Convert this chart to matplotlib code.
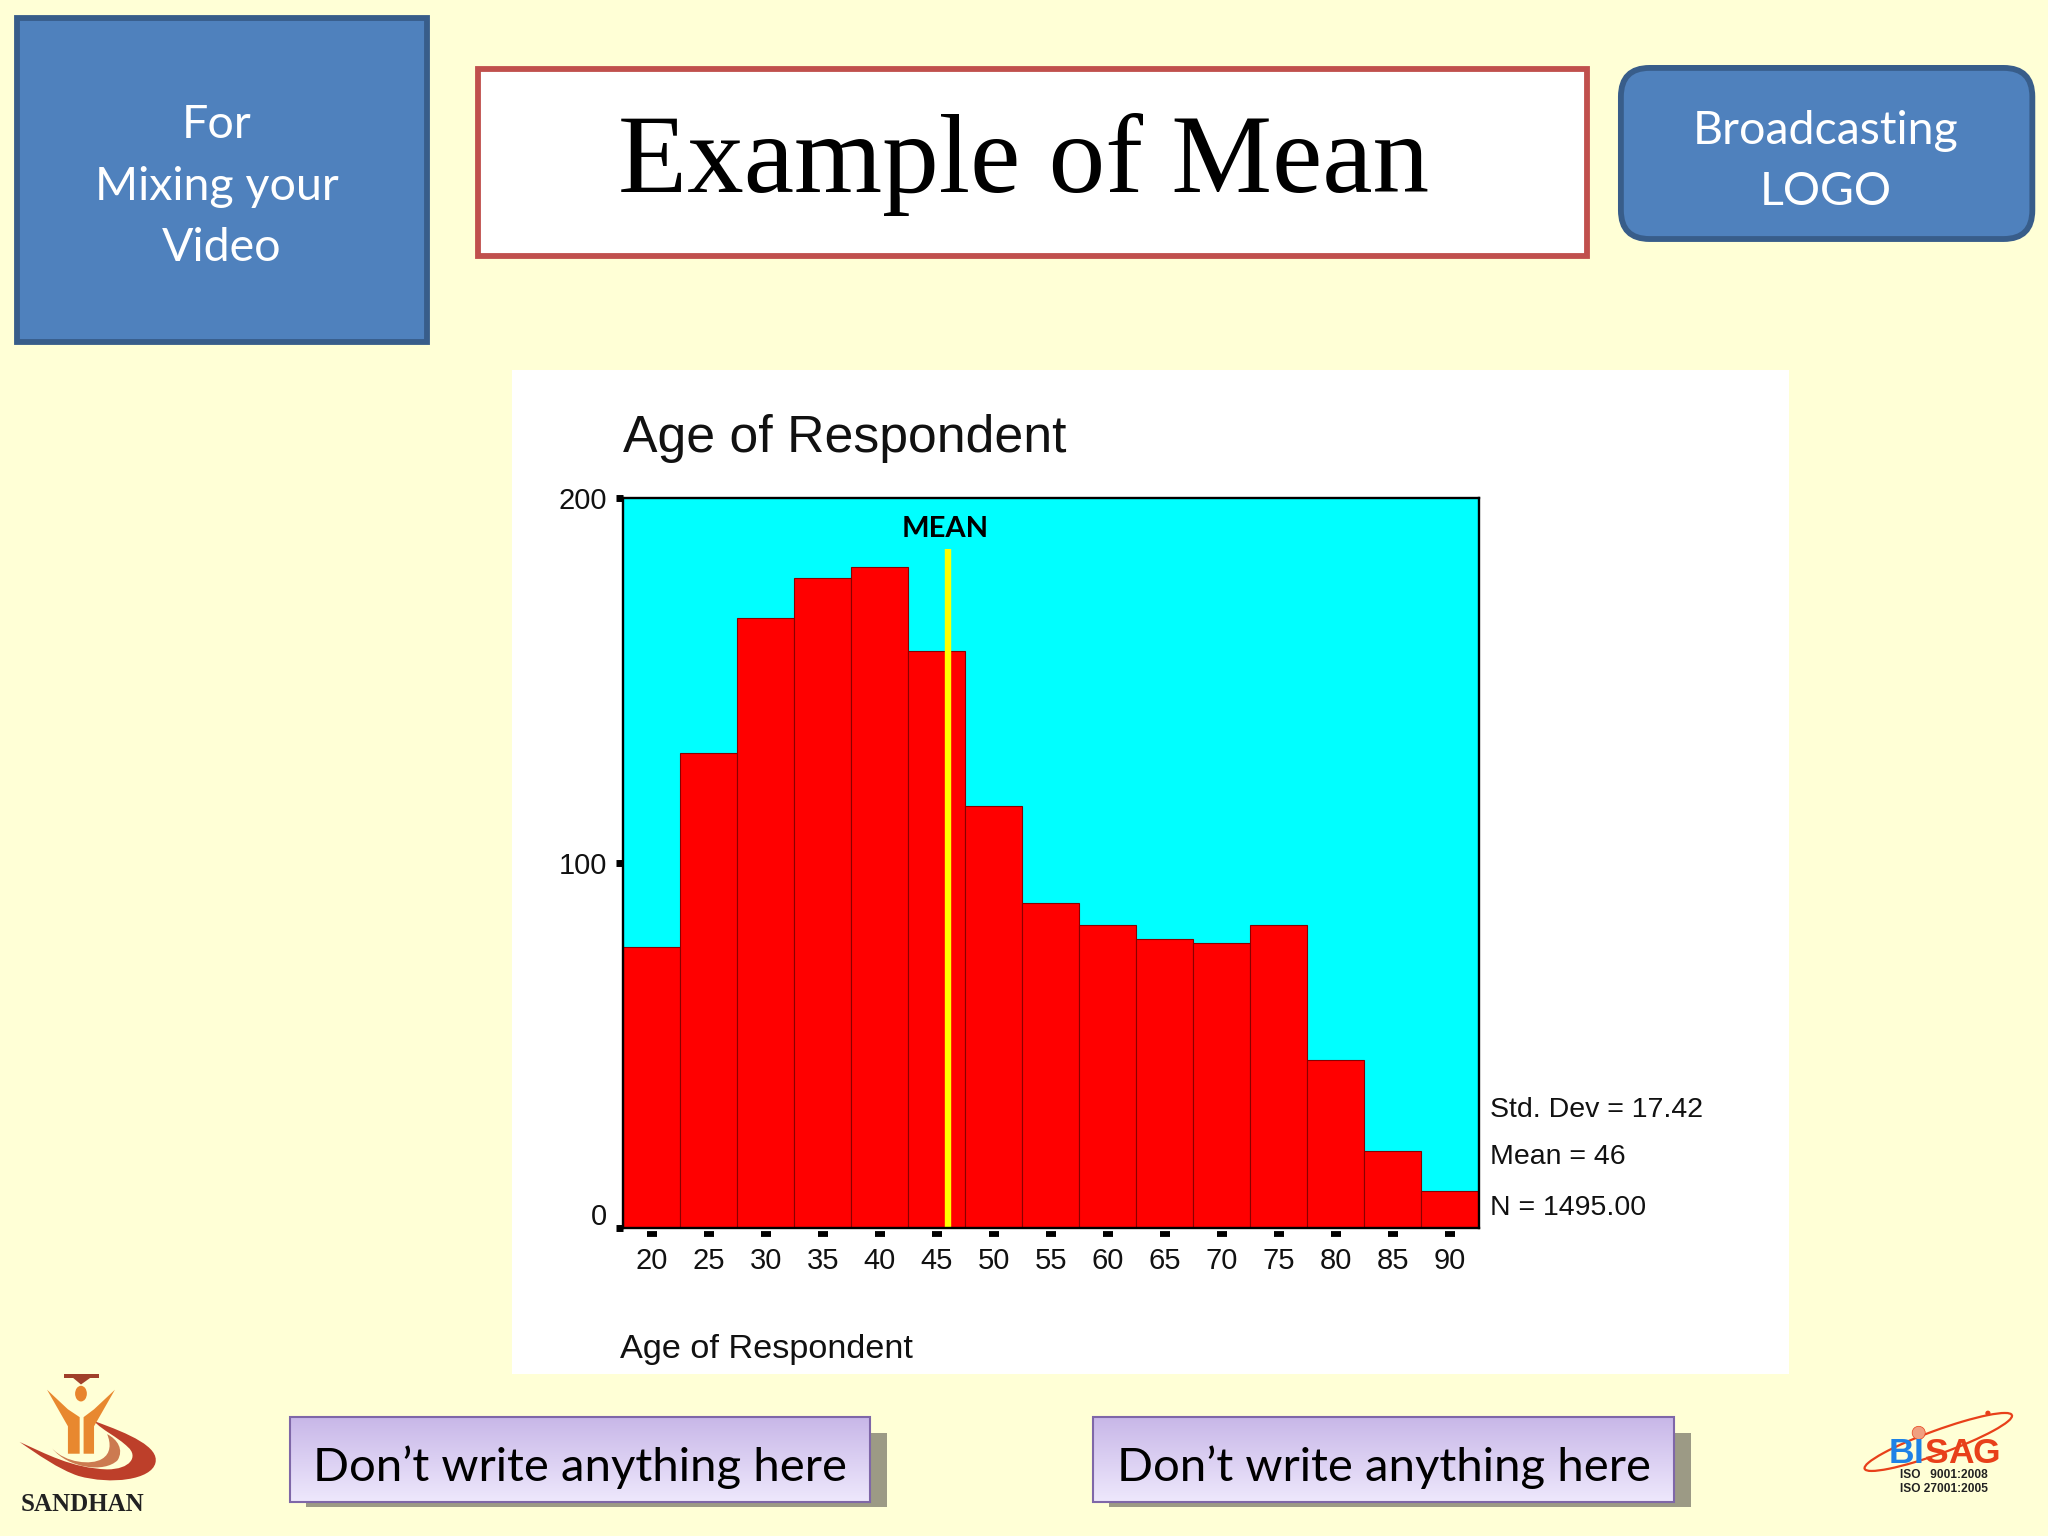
import numpy as np
import matplotlib
matplotlib.use("Agg")
import matplotlib.pyplot as plt
from matplotlib.patches import Rectangle, FancyBboxPatch, Ellipse, Polygon, Arc, PathPatch
from matplotlib.path import Path
from matplotlib.transforms import ScaledTranslation

age_bins = [20, 25, 30, 35, 40, 45, 50, 55, 60, 65, 70, 75, 80, 85, 90]
counts = [77, 130, 167, 178, 181, 158, 115.5, 89, 83, 79, 78, 83, 46, 21, 10]
y_ticks = [0, 100, 200]
mean_age = 46
stats = ["Std. Dev = 17.42", "Mean = 46", "N = 1495.00"]

BG = "#FFFFD6"
fig = plt.figure(figsize=(20.48, 15.36), dpi=100, facecolor=BG)
W, H = 1568.0, 1176.0
page = fig.add_axes([0, 0, 1, 1], zorder=0)
page.set_xlim(0, W); page.set_ylim(H, 0); page.axis("off")

def rect(x0, y0, x1, y1, fc, ec="none", lw=0, z=1):
    page.add_patch(Rectangle((x0, y0), x1 - x0, y1 - y0, fc=fc, ec=ec, lw=lw, zorder=z))

def curve(points, fc, z=3):
    codes = [Path.MOVETO] + [Path.CURVE4] * (len(points) - 1)
    page.add_patch(PathPatch(Path(points, codes), fc=fc, ec="none", zorder=z))

# header boxes
rect(13, 14, 327, 262, "#4F81BD", "#385D8A", 4.2)
for t, y, x in [("For", 96, 166), ("Mixing your", 143, 166), ("Video", 190, 170)]:
    page.text(x, y, t, color="white", family="Lato", fontsize=33.5, ha="center", va="center", zorder=3)
rect(366, 53, 1215, 196, "white", "#C0504D", 4.2)
page.text(784, 126, "Example of Mean", family="Liberation Serif", fontsize=81.5, ha="center", va="center", color="black", zorder=3)
page.add_patch(FancyBboxPatch((1255, 66), 287, 103, boxstyle="round,pad=14,rounding_size=22",
                              fc="#4F81BD", ec="#385D8A", lw=4.2, zorder=1))
page.text(1398, 100, "Broadcasting", color="white", family="Lato", fontsize=33.5, ha="center", va="center", zorder=3)
page.text(1398, 147, "LOGO", color="white", family="Lato", fontsize=33.5, ha="center", va="center", zorder=3)

# chart panel
rect(392, 283, 1370, 1052, "white")

# footer boxes
grad = np.linspace(0, 1, 128).reshape(-1, 1, 1)
c0 = np.array([0xC8, 0xB7, 0xE8]) / 255; c1 = np.array([0xEE, 0xE8, 0xFC]) / 255
grad_img = c0 + (c1 - c0) * grad
for x0, x1 in [(222, 666), (837, 1282)]:
    rect(x0 + 12, 1097, x1 + 13, 1154, "#9C9A85", z=1)
    page.imshow(grad_img, extent=(x0, x1, 1150, 1085), aspect="auto", zorder=2)
    rect(x0, 1085, x1, 1150, "none", "#7F67A8", 1.5, z=3)
    page.text((x0 + x1) / 2, 1123, "Don\u2019t write anything here", family="Lato", fontsize=34,
              ha="center", va="center", color="black", zorder=4)
page.set_xlim(0, W); page.set_ylim(H, 0)

# Sandhan logo
page.add_patch(Polygon([[49, 1055], [76, 1055], [76, 1052], [49, 1052]], fc="#A0402A", zorder=3))
page.add_patch(Polygon([[56, 1055], [69, 1055], [62, 1060]], fc="#A0402A", zorder=3))
page.add_patch(Ellipse((62, 1067), 9, 12, fc="#E8842C", zorder=3))
page.add_patch(Polygon([[36, 1064], [52, 1079], [61, 1085], [61, 1113], [52, 1113], [52, 1092]], fc="#E8882F", zorder=3))
page.add_patch(Polygon([[88, 1064], [72, 1079], [64, 1085], [64, 1113], [72, 1113], [72, 1092]], fc="#E8882F", zorder=3))
curve([[72, 1088], [100, 1098], [122, 1108], [119, 1120], [116, 1133], [85, 1137], [60, 1130],
       [45, 1125], [28, 1113], [15, 1104], [35, 1113], [55, 1124], [82, 1125],
       [100, 1125], [106, 1115], [98, 1108], [90, 1100], [78, 1095], [72, 1088]], "#BD3F2A", z=2)
curve([[40, 1109], [50, 1120], [70, 1122], [78, 1117], [85, 1113], [85, 1105], [82, 1098],
       [90, 1102], [95, 1110], [90, 1118], [80, 1128], [52, 1124], [40, 1109]], "#CC7A50")
page.text(63, 1152, "SANDHAN", family="Liberation Serif", weight="bold", fontsize=18,
          ha="center", va="center", color="#222222", zorder=3)

# BISAG logo
page.add_patch(Arc((1484, 1104), 120, 18, angle=-20, theta1=0, theta2=360, ec="#E8401A", lw=1.6, zorder=3))
page.add_patch(Ellipse((1469, 1097), 10, 10, fc="#F0A080", ec="#E8401A", lw=0.5, zorder=3))
page.add_patch(Ellipse((1522, 1082), 4, 4, fc="#E8401A", zorder=3))
for ch, x, col in [("B", 1456, "#1E82E6"), ("I", 1469, "#1E82E6"), ("S", 1482, "#E8401A"),
                   ("A", 1501, "#E8401A"), ("G", 1521, "#E8401A")]:
    page.text(x, 1113, ch, family="Liberation Sans", weight="bold", fontsize=25.5, color=col,
              ha="center", va="center", zorder=4)
page.text(1488, 1129, "ISO   9001:2008", family="Liberation Sans", weight="bold", fontsize=8.6,
          ha="center", va="center", color="#222222", zorder=4)
page.text(1488, 1140, "ISO 27001:2005", family="Liberation Sans", weight="bold", fontsize=8.6,
          ha="center", va="center", color="#222222", zorder=4)

# histogram
L, R, T, B = 477.0, 1132.0, 381.0, 940.0
ax = fig.add_axes([L / W, 1 - B / H, (R - L) / W, (B - T) / H], zorder=2, facecolor="#00FFFF")
ax.bar(age_bins, counts, width=5, color="#FF0000", edgecolor="#8A0000", linewidth=0.8, zorder=2)
ax.set_xlim(17.5, 92.5)
ax.set_ylim(0, 200)
ax.plot([mean_age, mean_age], [0, 186], color="#FFFF00", lw=4.6, solid_capstyle="butt", zorder=3)
for s in ax.spines.values():
    s.set_linewidth(1.7); s.set_color("black"); s.set_zorder(5)
ax.set_xticks(age_bins)
xlabels = ax.set_xticklabels([str(a) for a in age_bins], family="Liberation Sans", fontsize=21, color="#111111")
ax.tick_params(axis="x", length=0, pad=14)
ax.set_yticks(y_ticks)
ylabels = ax.set_yticklabels([str(v) for v in y_ticks], family="Liberation Sans", fontsize=21, color="#111111")
ax.tick_params(axis="y", length=5, width=5, pad=6.5, color="black")
ylabels[0].set_transform(ylabels[0].get_transform() + ScaledTranslation(0, 14 / 100, fig.dpi_scale_trans))
off = ScaledTranslation(0, -6.5 / 100, fig.dpi_scale_trans)
ax.scatter(age_bins, [0] * len(age_bins), marker="_", s=55, lw=4.2, color="black",
           transform=ax.get_xaxis_transform() + off, clip_on=False, zorder=6)
ax.text(45.75, 191.3, "MEAN", family="Lato", weight="bold", fontsize=21,
        ha="center", va="center", color="black", zorder=6)

page.text(477, 336, "Age of Respondent", family="Liberation Sans", fontsize=37.3, ha="left", va="center", color="#111111", zorder=3)
page.text(475, 1033, "Age of Respondent", family="Liberation Sans", fontsize=24.7, ha="left", va="center", color="#111111", zorder=3)
for t, y in zip(stats, [850, 886, 925]):
    page.text(1141, y, t, family="Liberation Sans", fontsize=20.5, ha="left", va="center", color="#111111", zorder=3)

fig.savefig("out.png", dpi=100, facecolor=BG)
